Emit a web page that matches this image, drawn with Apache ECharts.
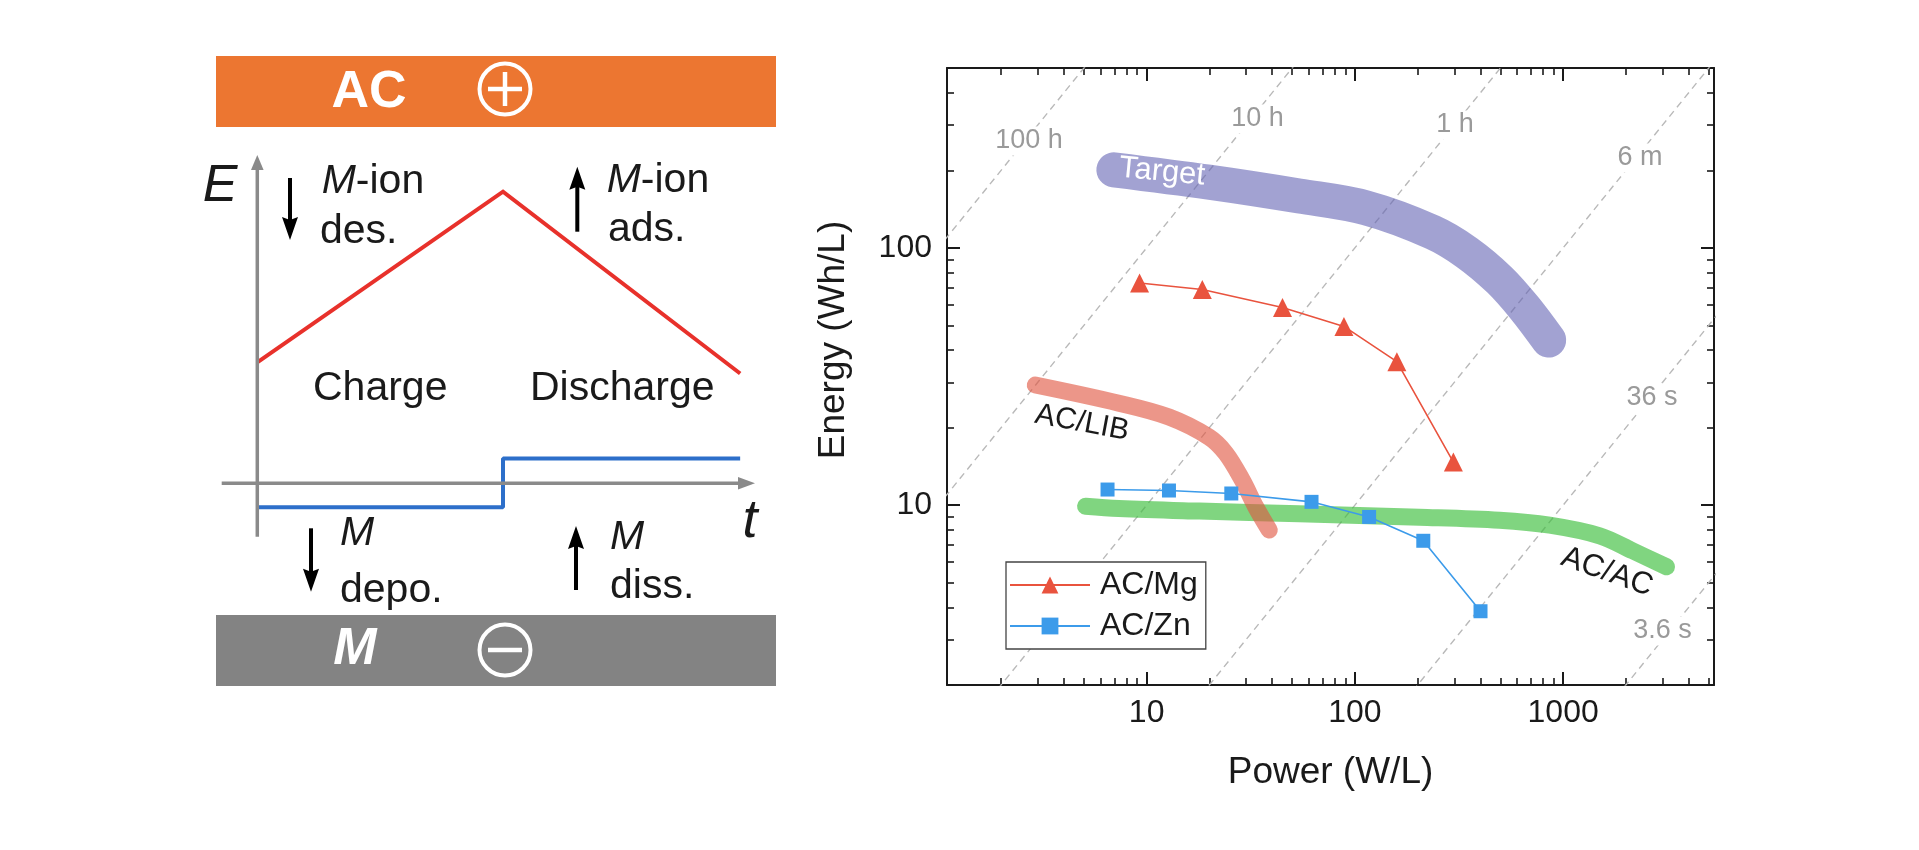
<!DOCTYPE html>
<html><head><meta charset="utf-8">
<script src="https://cdn.jsdelivr.net/npm/echarts@6/dist/echarts.min.js"></script>
<style>html,body{margin:0;padding:0;background:#fff}#c{width:1919px;height:850px}</style>
</head><body><div id="c"></div>
<script>
const FONT = '"Liberation Sans", Arial, Helvetica, sans-serif';

// ---------- Right panel: Ragone plot data ----------
const powerMg  = [9.25, 18.5, 44.9, 88.6, 159, 297];
const energyMg = [73.0, 68.9, 58.6, 49.5, 36.1, 14.7];
const powerZn  = [6.49, 12.8, 25.5, 61.9, 117, 213, 401];
const energyZn = [11.5, 11.4, 11.1, 10.3, 9.0, 7.27, 3.87];
const powerTarget  = [6.96, 19.9, 54.0, 113, 236, 344, 495, 653, 852];
const energyTarget = [201, 180, 159, 143, 115, 96, 75, 58.3, 43.8];
const powerLIB  = [2.92, 7.36, 12.8, 19.9, 24.0, 28.8, 33.4, 38.8];
const energyLIB = [29.3, 24.9, 22.0, 18.4, 15.9, 12.5, 9.85, 8.0];
const powerACAC  = [5.09, 7.36, 17.9, 54.0, 204, 495, 861, 1498, 2160, 3136];
const energyACAC = [9.91, 9.71, 9.48, 9.25, 8.98, 8.74, 8.36, 7.60, 6.64, 5.76];
const timeHours  = [100, 10, 1, 0.1, 0.01, 0.001];
const timeLabels = ['100 h', '10 h', '1 h', '6 m', '36 s', '3.6 s'];
const xMajorTicks = [10, 100, 1000];
const xMinorTicks = [2,3,4,5,6,7,8,9,20,30,40,50,60,70,80,90,200,300,400,500,600,700,800,900,2000,3000,4000,5000];
const yMajorTicks = [10, 100];
const yMinorTicks = [2,3,4,5,6,7,8,9,20,30,40,50,60,70,80,90,200,300,400,500];

// ---------- Left panel: schematic data ----------
const schemT = [0, 0.5, 0.984];
const schemE = [0.457, 0.893, 0.427];
const stepT  = [0, 0.5, 0.5, 0.984];
const stepI  = [0.084, 0.084, 0.209, 0.209];

const zip = (a, b) => a.map((v, i) => [v, b[i]]);
const INK = '#1a1a1a';

function xAx(pos, ticks, len, showLine, showLabel) {
  return {
    type: 'log', logBase: 10, min: 1.1, max: 5300, position: pos, gridIndex: 0,
    axisLine: { show: showLine, onZero: false, lineStyle: { color: INK, width: 2 } },
    axisTick: { show: true, inside: true, length: len, customValues: ticks,
      lineStyle: { color: INK, width: len > 10 ? 2 : 1.6 } },
    axisLabel: { show: showLabel, customValues: xMajorTicks, margin: 12, fontSize: 32,
      color: INK, fontFamily: FONT, formatter: v => String(Math.round(v)) },
    splitLine: { show: false }, minorTick: { show: false }, minorSplitLine: { show: false }
  };
}
function yAx(pos, ticks, len, showLine, showLabel) {
  return {
    type: 'log', logBase: 10, min: 2, max: 500, position: pos, gridIndex: 0,
    axisLine: { show: showLine, onZero: false, lineStyle: { color: INK, width: 2 } },
    axisTick: { show: true, inside: true, length: len, customValues: ticks,
      lineStyle: { color: INK, width: len > 10 ? 2 : 1.6 } },
    axisLabel: { show: showLabel, customValues: yMajorTicks, margin: 15, fontSize: 32,
      color: INK, fontFamily: FONT, formatter: v => String(Math.round(v)) },
    splitLine: { show: false }, minorTick: { show: false }, minorSplitLine: { show: false }
  };
}

const refSeries = timeHours.map(t => ({
  type: 'line', xAxisIndex: 0, yAxisIndex: 0, symbol: 'none', silent: true, z: 1,
  data: [[0.01, 0.01 * t], [100000, 100000 * t]],
  lineStyle: { color: '#b9b9b9', width: 1.4, type: [7, 5] }
}));

function band(name, xs, ys, color, width, z) {
  return { name, type: 'line', xAxisIndex: 0, yAxisIndex: 0, symbol: 'none', smooth: 0.35,
    silent: true, z, data: zip(xs, ys),
    lineStyle: { color, width, cap: 'round', join: 'round' } };
}

// ---------- graphic helpers ----------
function txt(x, y, text, font, fill, align) {
  return { type: 'text', x, y, z: 50,
    style: { text, font, fill, align: align || 'left', verticalAlign: 'middle' } };
}
function arrow(x, y1, y2, color, w, headW, headL) {
  const dir = y2 > y1 ? 1 : -1;
  const base = y2 - dir * headL;
  return [
    { type: 'line', z: 50, shape: { x1: x, y1: y1, x2: x, y2: base + dir * 2 }, style: { stroke: color, lineWidth: w } },
    { type: 'polygon', z: 50, shape: { points: [[x - headW / 2, base - dir * 3], [x, base], [x + headW / 2, base - dir * 3], [x, y2]] }, style: { fill: color } }
  ];
}
const LF = '41px ' + FONT;
const LFI = 'italic 41px ' + FONT;
function richLine(x, y, text) {
  return { type: 'text', x, y, z: 50, style: { text, fill: INK, font: LF, align: 'left', verticalAlign: 'middle',
    rich: { i: { font: LFI, fill: INK }, n: { font: LF, fill: INK } } } };
}

const AXG = '#8a8a8a';
const graphics = [
  { type: 'rect', z: 40, shape: { x: 216, y: 56, width: 560, height: 71 }, style: { fill: '#ec7631' } },
  { type: 'rect', z: 40, shape: { x: 216, y: 615, width: 560, height: 71 }, style: { fill: '#838383' } },
  txt(369, 93, 'AC', 'bold 52px ' + FONT, '#fff', 'center'),
  txt(355, 650, 'M', 'italic bold 52px ' + FONT, '#fff', 'center'),
  { type: 'circle', z: 50, shape: { cx: 505, cy: 89, r: 25.5 }, style: { fill: 'none', stroke: '#fff', lineWidth: 4 } },
  { type: 'line', z: 50, shape: { x1: 488, y1: 89, x2: 522, y2: 89 }, style: { stroke: '#fff', lineWidth: 4.5 } },
  { type: 'line', z: 50, shape: { x1: 505, y1: 72, x2: 505, y2: 106 }, style: { stroke: '#fff', lineWidth: 4.5 } },
  { type: 'circle', z: 50, shape: { cx: 505, cy: 650, r: 25.5 }, style: { fill: 'none', stroke: '#fff', lineWidth: 4 } },
  { type: 'line', z: 50, shape: { x1: 488, y1: 650, x2: 522, y2: 650 }, style: { stroke: '#fff', lineWidth: 4.5 } },
  { type: 'line', z: 45, shape: { x1: 257.3, y1: 536.7, x2: 257.3, y2: 168 }, style: { stroke: AXG, lineWidth: 3.5 } },
  { type: 'polygon', z: 45, shape: { points: [[251, 170], [263.6, 170], [257.3, 155]] }, style: { fill: AXG } },
  { type: 'line', z: 45, shape: { x1: 221.7, y1: 483.3, x2: 740, y2: 483.3 }, style: { stroke: AXG, lineWidth: 3.5 } },
  { type: 'polygon', z: 45, shape: { points: [[738, 477], [738, 489.6], [755, 483.3]] }, style: { fill: AXG } },
  txt(220, 186.5, 'E', 'italic 52px ' + FONT, INK, 'center'),
  txt(750, 522, 't', 'italic 54px ' + FONT, INK, 'center'),
  richLine(321.7, 182, '{i|M}{n|-ion}'),
  txt(320, 231.7, 'des.', LF, INK, 'left'),
  richLine(606.7, 181, '{i|M}{n|-ion}'),
  txt(608, 230, 'ads.', LF, INK, 'left'),
  txt(313, 389, 'Charge', LF, INK, 'left'),
  txt(530, 389, 'Discharge', LF, INK, 'left'),
  txt(340, 534, 'M', LFI, INK, 'left'),
  txt(340, 591, 'depo.', LF, INK, 'left'),
  txt(610, 538, 'M', LFI, INK, 'left'),
  txt(610, 587, 'diss.', LF, INK, 'left'),
  ...arrow(290, 178, 240, '#000', 4, 16, 20),
  ...arrow(577.3, 231.7, 166.7, '#000', 4, 16, 20),
  ...arrow(311, 528.3, 591.7, '#000', 4, 16, 20),
  ...arrow(576, 590, 526, '#000', 4, 16, 20),
  txt(1330.5, 773, 'Power (W/L)', '37px ' + FONT, INK, 'center'),
  Object.assign(txt(834, 340, 'Energy (Wh/L)', '37px ' + FONT, INK, 'center'), { rotation: Math.PI / 2 }),
  Object.assign(txt(1162, 172, 'Target', '31px ' + FONT, '#fff', 'center'), { rotation: -0.095 }),
  Object.assign(txt(1082, 423, 'AC/LIB', '30px ' + FONT, INK, 'center'), { rotation: -0.185 }),
  Object.assign(txt(1607, 572, 'AC/AC', '31px ' + FONT, INK, 'center'), { rotation: -0.34 })
];
const timeLabelPos = [[1029, 141], [1257.5, 119], [1455, 125], [1640, 158], [1652, 398], [1662.5, 631]];
timeLabels.forEach((s, i) => {
  graphics.push({ type: 'text', x: timeLabelPos[i][0], y: timeLabelPos[i][1], z: 30,
    style: { text: s, font: '27px ' + FONT, fill: '#9a9a9a', align: 'center', verticalAlign: 'middle',
      backgroundColor: '#fff', padding: [1, 3] } });
});

const chart = echarts.init(document.getElementById('c'), null, { renderer: 'canvas' });
chart.setOption({
  animation: false,
  backgroundColor: '#fff',
  grid: [
    { left: 947, top: 68, width: 767, height: 617 },
    { left: 258, top: 150, width: 490, height: 390 }
  ],
  xAxis: [
    xAx('bottom', xMajorTicks, 13, true, true),
    xAx('bottom', xMinorTicks, 7, false, false),
    xAx('top', xMajorTicks, 13, true, false),
    xAx('top', xMinorTicks, 7, false, false),
    { type: 'value', gridIndex: 1, min: 0, max: 1, show: false }
  ],
  yAxis: [
    yAx('left', yMajorTicks, 13, true, true),
    yAx('left', yMinorTicks, 7, false, false),
    yAx('right', yMajorTicks, 13, true, false),
    yAx('right', yMinorTicks, 7, false, false),
    { type: 'value', gridIndex: 1, min: 0, max: 1, show: false }
  ],
  legend: {
    data: ['AC/Mg', 'AC/Zn'], orient: 'vertical', left: 1006, top: 562,
    itemWidth: 80, itemHeight: 21, itemGap: 9, padding: [7, 8, 7, 3],
    borderColor: '#444', borderWidth: 1.3, backgroundColor: '#fff',
    textStyle: { fontSize: 32, color: INK, fontFamily: FONT, padding: [0, 0, 0, 5] }
  },
  graphic: { elements: graphics },
  series: [
    ...refSeries,
    band('Target', powerTarget, energyTarget, 'rgba(100,100,180,0.6)', 35, 3),
    band('AC/AC band', powerACAC, energyACAC, 'rgba(60,190,60,0.65)', 17, 3),
    band('AC/LIB band', powerLIB, energyLIB, 'rgba(225,85,65,0.62)', 17, 4),
    { name: 'AC/Mg', type: 'line', xAxisIndex: 0, yAxisIndex: 0, data: zip(powerMg, energyMg),
      symbol: 'triangle', symbolSize: 19, z: 6,
      lineStyle: { color: '#e9533e', width: 1.6 }, itemStyle: { color: '#e9533e' } },
    { name: 'AC/Zn', type: 'line', xAxisIndex: 0, yAxisIndex: 0, data: zip(powerZn, energyZn),
      symbol: 'rect', symbolSize: 14, z: 6,
      lineStyle: { color: '#3c9bea', width: 1.6 }, itemStyle: { color: '#3c9bea' } },
    { name: 'schematic E', type: 'line', xAxisIndex: 4, yAxisIndex: 4, data: zip(schemT, schemE),
      symbol: 'none', z: 41, lineStyle: { color: '#e8312b', width: 4, join: 'miter' } },
    { name: 'schematic I', type: 'line', xAxisIndex: 4, yAxisIndex: 4, data: zip(stepT, stepI),
      symbol: 'none', z: 41, lineStyle: { color: '#2d6fca', width: 4 } }
  ]
});
</script></body></html>
